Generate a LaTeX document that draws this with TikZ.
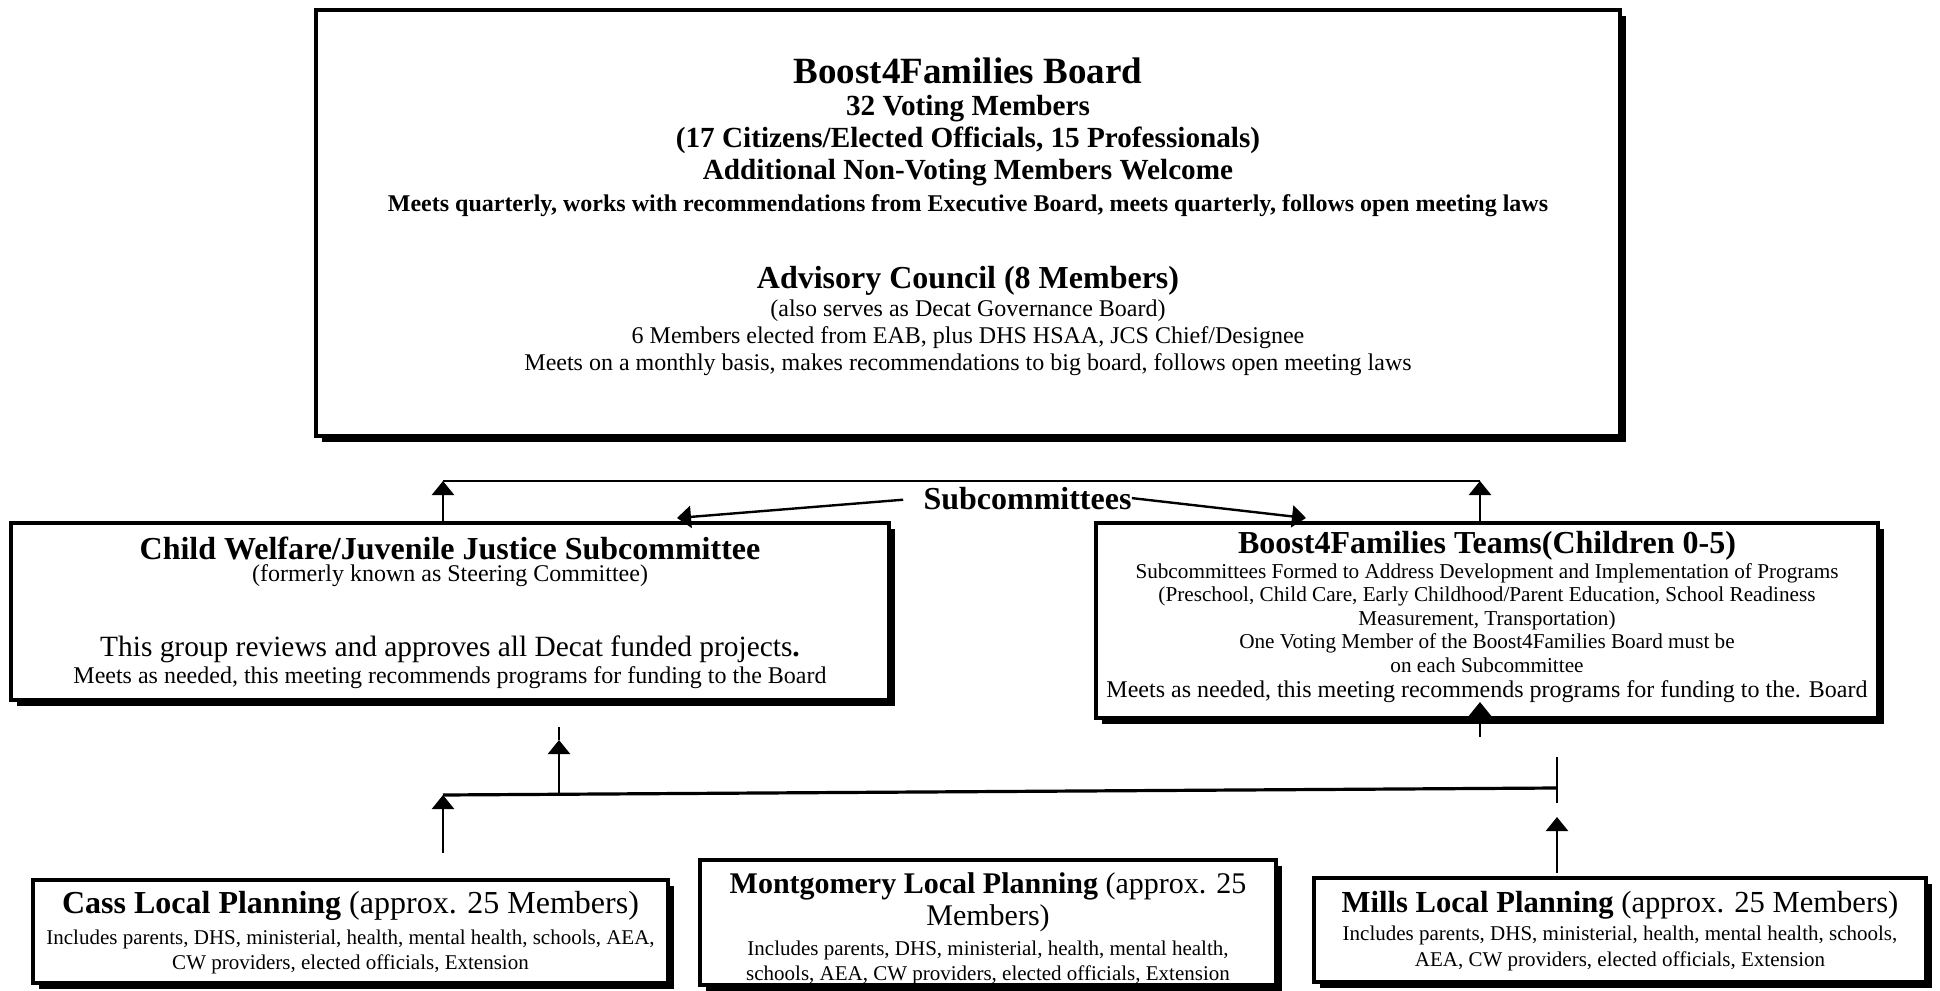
\documentclass[tikz,border=0pt]{standalone}
\usepackage{fontspec}
\setmainfont{Liberation Serif}
\usetikzlibrary{arrows.meta,shadows}

\newcommand{\fsz}[1]{\fontsize{#1}{#1}\selectfont}

\tikzset{
  panel/.style={draw, line width=2.2pt, fill=white, inner sep=0pt,
    drop shadow={shadow xshift=3pt, shadow yshift=-3pt, fill=black, opacity=1}},
  txtline/.style={anchor=base, inner sep=0pt},
  link/.style={line width=1.2pt},
  uparrow/.style={link, -{Triangle[length=7pt, width=11pt]}},
}

\begin{document}
\begin{tikzpicture}[x=0.5pt, y=-0.5pt]

\useasboundingbox (0,0) rectangle (1940,991);

% Boxes
\node[panel, minimum width=652pt, minimum height=213pt] (board) at (968,223) {};
\node[panel, minimum width=439pt, minimum height=88.5pt] (cwjj) at (450,611.5) {};
\node[panel, minimum width=391pt, minimum height=97.5pt] (teams) at (1487,620.5) {};
\node[panel, minimum width=317.5pt, minimum height=51.5pt] (cass) at (350.5,931.5) {};
\node[panel, minimum width=288pt, minimum height=62.5pt] (mont) at (988,922.5) {};
\node[panel, minimum width=306pt, minimum height=52pt] (mills) at (1620,930) {};

% Board
\node[txtline, font=\bfseries\fsz{18.5}] (b1) at (968,83) {Boost4Families Board};
\node[txtline, font=\bfseries\fsz{14.6}] (b2) at (968,115) {32 Voting Members};
\node[txtline, font=\bfseries\fsz{14.6}] (b3) at (968,147) {(17 Citizens/Elected Officials, 15 Professionals)};
\node[txtline, font=\bfseries\fsz{14.6}] (b4) at (968,179) {Additional Non-Voting Members Welcome};
\node[txtline, font=\bfseries\fsz{12}] (b5) at (968,211) {Meets quarterly, works with recommendations from Executive Board, meets quarterly, follows open meeting laws};

% Advisory council
\node[txtline, font=\bfseries\fsz{16}] (a1) at (968,288) {Advisory Council (8 Members)};
\node[txtline, font=\fsz{12}] (a2) at (968,316) {(also serves as Decat Governance Board)};
\node[txtline, font=\fsz{12}] (a3) at (968,343) {6 Members elected from EAB, plus DHS HSAA, JCS Chief/Designee};
\node[txtline, font=\fsz{12}] (a4) at (968,370) {Meets on a monthly basis, makes recommendations to big board, follows open meeting laws};

% Child welfare
\node[txtline, font=\bfseries\fsz{16}] (c1) at (450,559) {Child Welfare/Juvenile Justice Subcommittee};
\node[txtline, font=\fsz{12}] (c2) at (450,581) {(formerly known as Steering Committee)};
\node[txtline, font=\fsz{14.7}] (c3) at (450,656) {This group reviews and approves all Decat funded projects\textbf{.}};
\node[txtline, font=\fsz{12}] (c4) at (450,683) {Meets as needed, this meeting recommends programs for funding to the Board};

% Teams
\node[txtline, font=\bfseries\fsz{16}] (t1) at (1487,553) {Boost4Families Teams(Children 0-5)};
\node[txtline, font=\fsz{10.6}] (t2) at (1487,578) {Subcommittees Formed to Address Development and Implementation of Programs};
\node[txtline, font=\fsz{10.6}] (t3) at (1487,601) {(Preschool, Child Care, Early Childhood/Parent Education, School Readiness};
\node[txtline, font=\fsz{10.6}] (t4) at (1487,625) {Measurement, Transportation)};
\node[txtline, font=\fsz{10.6}] (t5) at (1487,648) {One Voting Member of the Boost4Families Board must be};
\node[txtline, font=\fsz{10.6}] (t6) at (1487,672) {on each Subcommittee};
\node[txtline, font=\fsz{12}] (t7) at (1487,697) {Meets as needed, this meeting recommends programs for funding to the. Board};

% Local planning
\node[txtline, font=\fsz{16}] (p1) at (350.5,913) {\textbf{Cass Local Planning} (approx. 25 Members)};
\node[txtline, font=\fsz{10.5}] (p2) at (350.5,944) {Includes parents, DHS, ministerial, health, mental health, schools, AEA,};
\node[txtline, font=\fsz{10.5}] (p3) at (350.5,969) {CW providers, elected officials, Extension};

\node[txtline, font=\fsz{15}] (m1) at (988,893) {\textbf{Montgomery Local Planning} (approx. 25};
\node[txtline, font=\fsz{15}] (m2) at (988,925) {Members)};
\node[txtline, font=\fsz{10.5}] (m3) at (988,955) {Includes parents, DHS, ministerial, health, mental health,};
\node[txtline, font=\fsz{10.5}] (m4) at (988,980) {schools, AEA, CW providers, elected officials, Extension};

\node[txtline, font=\fsz{15.3}] (l1) at (1620,912) {\textbf{Mills Local Planning} (approx. 25 Members)};
\node[txtline, font=\fsz{10.5}] (l2) at (1620,940) {Includes parents, DHS, ministerial, health, mental health, schools,};
\node[txtline, font=\fsz{10.5}] (l3) at (1620,966) {AEA, CW providers, elected officials, Extension};

% Subcommittees
\node[txtline, font=\bfseries\fsz{16}] (subc) at (1027.5,509) {Subcommittees};
\coordinate (brL) at (443,481);
\coordinate (brR) at (1480,481);
\coordinate (tipL) at (677,518);
\coordinate (tipR) at (1306,518);

\draw[link] (brL) -- (brR);
\draw[uparrow] (cwjj.north -| brL) -- (brL);
\draw[uparrow] (teams.north -| brR) -- (brR);
\draw[uparrow, shorten <=10pt] (subc.west) -- (tipL);
\draw[uparrow] (subc.east) -- (tipR);

% Local planning links
\coordinate (jL) at (443,795);
\coordinate (jR) at (1557,788);
\coordinate (cassup) at (443,853);
\coordinate (midup) at (559,794);
\coordinate (cwtip) at (559,740);
\coordinate (cwtop) at (559,727);
\coordinate (tickT) at (1557,757);
\coordinate (tickB) at (1557,803);
\coordinate (millsup) at (1557,873);
\coordinate (millstip) at (1557,817);
\coordinate (teamsup) at (1480,737);
\coordinate (teamstip) at (1480,702);

\draw[line width=1.6pt] (jL) -- (jR);
\draw[uparrow] (cassup) -- (jL);
\draw[uparrow] (midup) -- (cwtip);
\draw[link] (cwtip) -- (cwtop);
\draw[link] (tickT) -- (tickB);
\draw[uparrow] (millsup) -- (millstip);
\draw[uparrow] (teamsup) -- (teamstip);

\end{tikzpicture}
\end{document}
